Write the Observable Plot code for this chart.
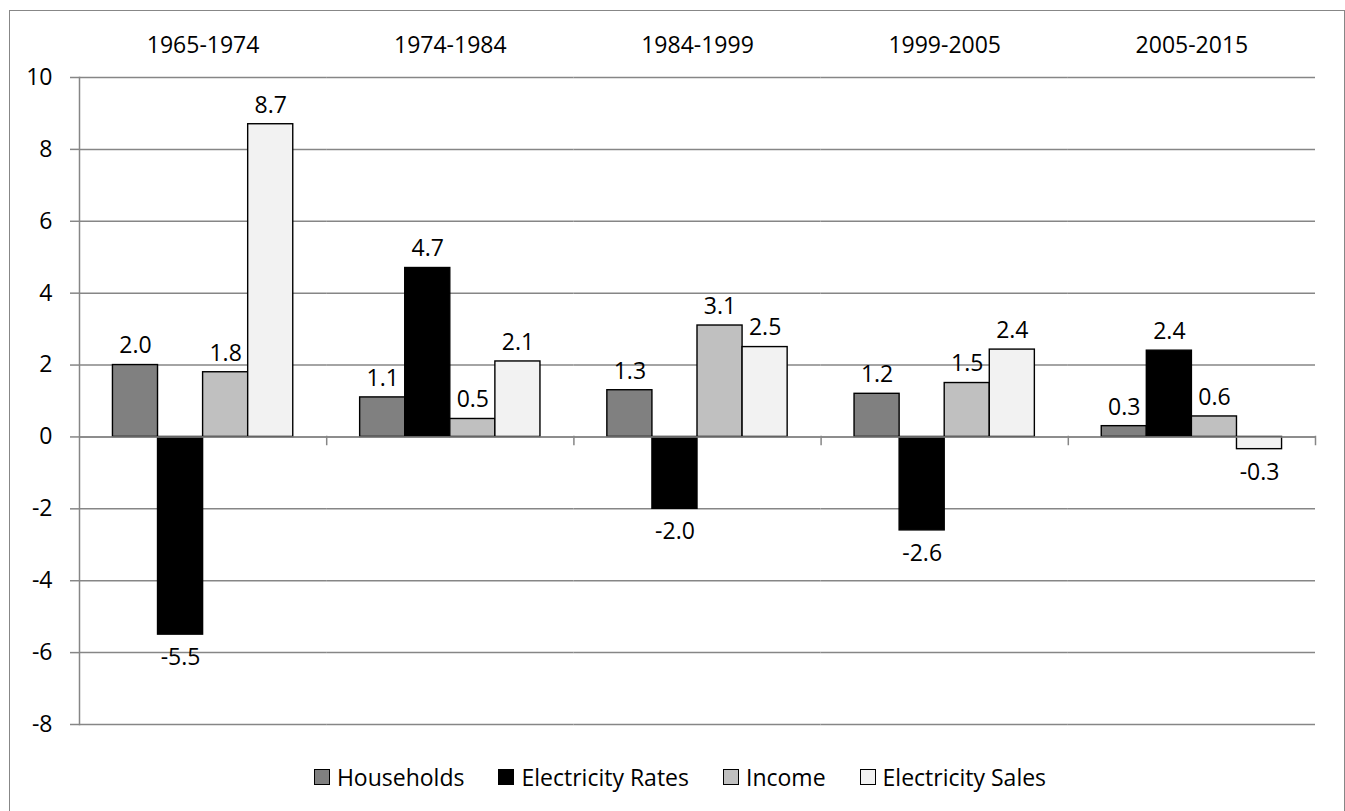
<!DOCTYPE html>
<html>
<head>
<meta charset="utf-8">
<script src="https://cdn.jsdelivr.net/npm/d3@7"></script>
<script src="https://cdn.jsdelivr.net/npm/@observablehq/plot@0.6"></script>
<style>
  html, body { margin: 0; padding: 0; background: #fff; }
  #box {
    position: absolute; left: 9px; top: 10px;
    width: 1334px; height: 820px;
    border: 1px solid #878787;
    font-family: "Open Sans", sans-serif;
  }
  #chart svg { display: block; }
  #legend {
    display: flex; justify-content: center; align-items: center;
    font-size: 23px; color: #000; padding-left: 6px;
    height: 42px;
  }
  .item { display: flex; align-items: center; margin: 0 17px; }
  .sw { width: 14px; height: 14px; border: 1.5px solid #000; margin-right: 7px; }
</style>
</head>
<body>
<div id="box">
  <div id="chart"></div>
  <div id="legend"></div>
</div>
<script>
const periods = ["1965-1974", "1974-1984", "1984-1999", "1999-2005", "2005-2015"];
const series = ["Households", "Electricity Rates", "Income", "Electricity Sales"];
const households = [2.0, 1.1, 1.3, 1.2, 0.3];
const electricityRates = [-5.5, 4.7, -2.0, -2.6, 2.4];
const income = [1.8, 0.5, 3.1, 1.5, 0.57];
const electricitySales = [8.7, 2.1, 2.5, 2.43, -0.34];
const yTicks = [-8, -6, -4, -2, 0, 2, 4, 6, 8, 10];
const colors = ["#808080", "#000000", "#c0c0c0", "#f2f2f2"];

const valuesBySeries = [households, electricityRates, income, electricitySales];
const data = [];
periods.forEach((p, i) => {
  series.forEach((s, j) => {
    data.push({period: p, series: s, value: valuesBySeries[j][i]});
  });
});

const fmt = d => d.toFixed(1);
const grey = "#868686";

const plot = Plot.plot({
  width: 1334,
  height: 745,
  marginLeft: 69,
  marginRight: 29,
  marginTop: 66,
  marginBottom: 32,
  style: {fontFamily: "Open Sans, sans-serif", background: "white", color: "black"},
  fx: {domain: periods, paddingInner: 0, paddingOuter: 0, round: false, axis: null},
  x: {domain: series, paddingInner: 0, paddingOuter: 0.742, round: false, axis: null},
  y: {domain: [-8, 10], axis: null},
  color: {domain: series, range: colors},
  marks: [
    Plot.gridY(yTicks, {stroke: grey, strokeOpacity: 1, strokeWidth: 1.5}),
    Plot.frame({anchor: "left", facetAnchor: "left", stroke: grey, strokeWidth: 1.5}),
    Plot.barY(data, {fx: "period", x: "series", y: "value", fill: "series", stroke: "#000", strokeWidth: 1.4}),
    Plot.ruleY([0], {stroke: grey, strokeWidth: 1.5}),
    Plot.frame({anchor: "right", stroke: grey, strokeWidth: 1.5, insetTop: 359, insetBottom: 280}),
    Plot.text(data, {filter: d => d.value >= 0, fx: "period", x: "series", y: "value", text: d => fmt(d.value), dy: -19, fontSize: 23, fill: "#000"}),
    Plot.text(data, {filter: d => d.value < 0, fx: "period", x: "series", y: "value", text: d => fmt(d.value), dy: 23, fontSize: 23, fill: "#000"}),
    Plot.axisY(yTicks, {anchor: "left", tickSize: 9, tickPadding: 18, stroke: grey, strokeWidth: 1.5, fill: "#000", fontSize: 23, tickFormat: d => String(d), label: null}),
    Plot.axisFx({anchor: "top", tickSize: 0, tickPadding: 25, fontSize: 23, fill: "#000", label: null})
  ]
});
document.getElementById("chart").appendChild(plot);

const legend = document.getElementById("legend");
series.forEach((s, j) => {
  const it = document.createElement("div");
  it.className = "item";
  const sw = document.createElement("div");
  sw.className = "sw";
  sw.style.background = colors[j];
  const t = document.createElement("span");
  t.textContent = s;
  it.appendChild(sw);
  it.appendChild(t);
  legend.appendChild(it);
});
</script>
</body>
</html>
